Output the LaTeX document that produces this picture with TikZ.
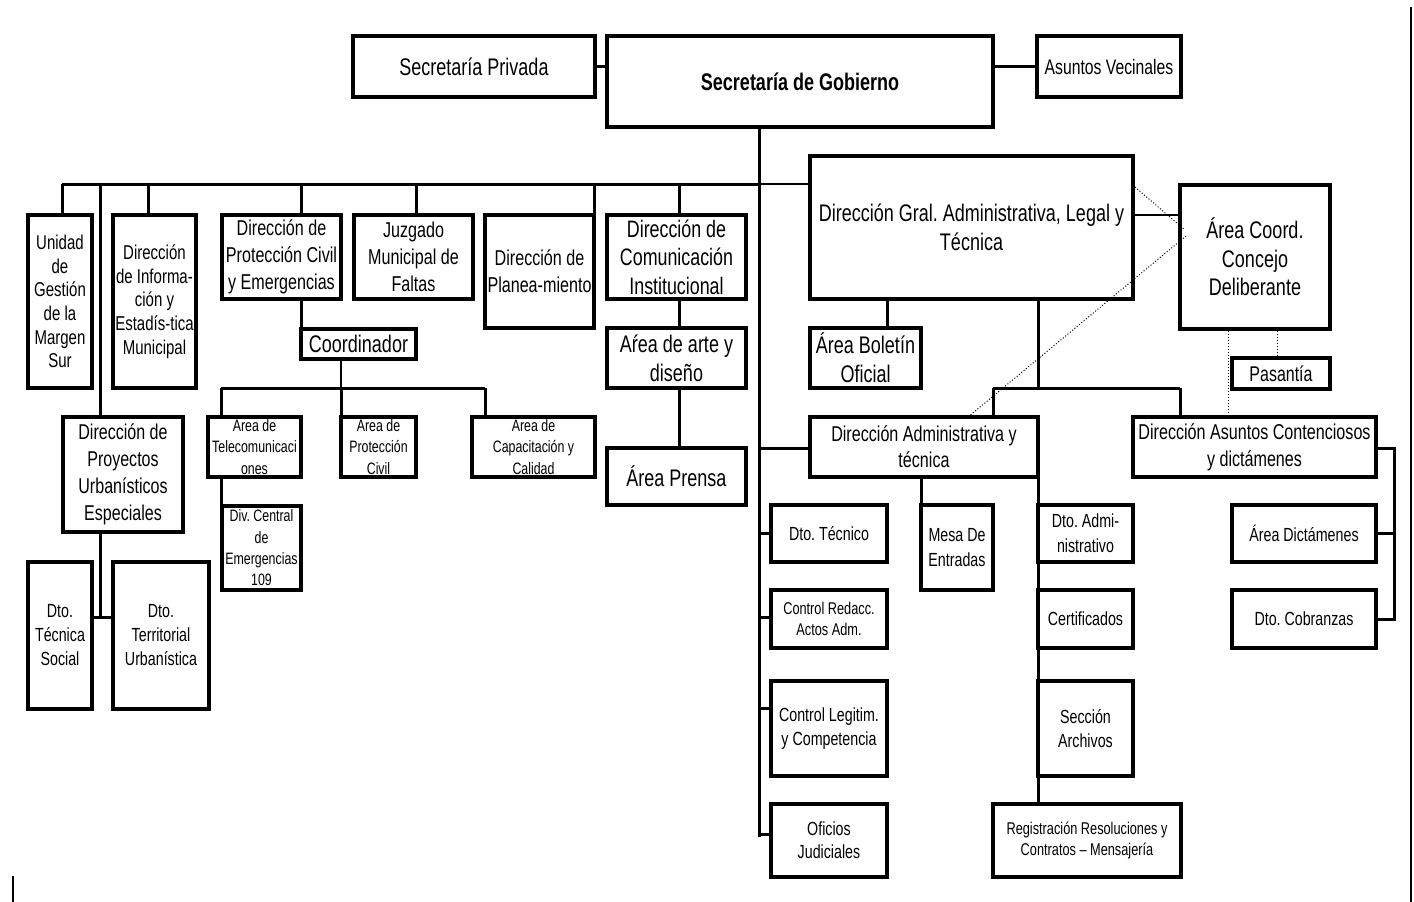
\documentclass[tikz,border=0pt]{standalone}
\usepackage{fontspec}
\setmainfont{Liberation Sans}[FakeStretch=0.75]
\newcommand{\fsz}[2]{\fontsize{#1}{#2}\selectfont}
\begin{document}
\frenchspacing
\begin{tikzpicture}[x=1pt,y=-1pt,
  box/.style={draw, line width=3.2pt, inner sep=0pt, align=center},
  con/.style={line width=3pt},
  thinc/.style={line width=1.1pt},
  dot/.style={line width=1pt, dotted}]
\useasboundingbox (0,0) rectangle (1414,902);
% top row
\node[box, minimum width=242pt, minimum height=61pt, font=\fsz{24}{29}] (priv) at (474,66.5) {Secretaría Privada};
\node[box, minimum width=386pt, minimum height=91pt, font=\fsz{24}{29}] (gob) at (800,81.5) {\textbf{Secretaría de Gobierno}};
\node[box, minimum width=144pt, minimum height=61pt, font=\fsz{21}{26}] (vec) at (1109,66.5) {Asuntos Vecinales};
% left branch
\node[box, minimum width=64pt, minimum height=173pt, font=\fsz{20}{23.7}] (unidad) at (60,301.5) {Unidad\\de\\Gestión\\de la\\Margen\\Sur};
\node[box, minimum width=83pt, minimum height=173pt, font=\fsz{20}{23.7}] (info) at (154.5,301.5) {Dirección\\de Informa-\\ción y\\Estadís-tica\\Municipal};
\node[box, minimum width=119pt, minimum height=84pt, font=\fsz{21.5}{26.7}] (pc) at (281.5,257) {Dirección de\\Protección Civil\\y Emergencias};
\node[box, minimum width=119pt, minimum height=84pt, font=\fsz{21.5}{26.7}] (juz) at (413.5,257) {Juzgado\\Municipal de\\Faltas};
\node[box, minimum width=109pt, minimum height=113pt, font=\fsz{21.5}{27}] (plan) at (539.5,271.5) {Dirección de\\Planea-miento};
\node[box, minimum width=139pt, minimum height=84pt, font=\fsz{23.8}{28.5}] (com) at (676.5,257) {Dirección de\\Comunicación\\Institucional};
\node[box, minimum width=139pt, minimum height=60pt, font=\fsz{24}{29}] (arte) at (676.5,358) {Aŕea de arte y\\diseño};
\node[box, minimum width=139pt, minimum height=57pt, font=\fsz{24}{29}] (prensa) at (676.5,476.5) {Área Prensa};
\node[box, minimum width=115pt, minimum height=30pt, font=\fsz{24}{29}] (coord) at (358.5,344) {Coordinador};
\node[box, minimum width=93pt, minimum height=60pt, font=\fsz{16.5}{21.5}] (tele) at (254.5,447) {Area de\\Telecomunicaci\\ones};
\node[box, minimum width=75pt, minimum height=60pt, font=\fsz{16.5}{21.5}] (apc) at (378.5,447) {Area de\\Protección\\Civil};
\node[box, minimum width=123pt, minimum height=60pt, font=\fsz{16.5}{21.5}] (cap) at (533.5,447) {Area de\\Capacitación y\\Calidad};
\node[box, minimum width=79pt, minimum height=84pt, font=\fsz{16.5}{21.3}] (div) at (261.5,548) {Div. Central\\de\\Emergencias\\109};
\node[box, minimum width=120pt, minimum height=115pt, font=\fsz{21.4}{27}] (proy) at (123,474.5) {Dirección de\\Proyectos\\Urbanísticos\\Especiales};
\node[box, minimum width=64pt, minimum height=147pt, font=\fsz{19}{24}] (dts) at (60,635.5) {Dto.\\Técnica\\Social};
\node[box, minimum width=96pt, minimum height=147pt, font=\fsz{19}{24}] (dtu) at (161,635.5) {Dto.\\Territorial\\Urbanística};
% right branch
\node[box, minimum width=323pt, minimum height=143pt, font=\fsz{24}{29}] (gral) at (971.5,227.5) {Dirección Gral. Administrativa, Legal y\\Técnica};
\node[box, minimum width=150pt, minimum height=144pt, font=\fsz{24}{28.5}] (acd) at (1255,257) {Área Coord.\\Concejo\\Deliberante};
\node[box, minimum width=98pt, minimum height=31pt, font=\fsz{21.3}{26}] (pas) at (1281,373.5) {Pasantía};
\node[box, minimum width=111pt, minimum height=60pt, font=\fsz{24}{29}] (bol) at (865.5,358) {Área Boletín\\Oficial};
\node[box, minimum width=228pt, minimum height=60pt, font=\fsz{21.5}{26}] (dat) at (924,447) {Dirección Administrativa y\\técnica};
\node[box, minimum width=243pt, minimum height=60pt, font=\fsz{21.5}{27}] (dac) at (1254.5,447) {Dirección Asuntos Contenciosos\\y dictámenes};
\node[box, minimum width=144pt, minimum height=57pt, font=\fsz{19}{24}] (adic) at (1304,533.5) {Área Dictámenes};
\node[box, minimum width=144pt, minimum height=58pt, font=\fsz{19}{24}] (cob) at (1304,619) {Dto. Cobranzas};
\node[box, minimum width=116pt, minimum height=57pt, font=\fsz{19}{24}] (dtec) at (829,533.5) {Dto. Técnico};
\node[box, minimum width=116pt, minimum height=58pt, font=\fsz{17}{21}] (cra) at (829,619) {Control Redacc.\\Actos Adm.};
\node[box, minimum width=116pt, minimum height=95pt, font=\fsz{19}{23.5}] (clc) at (829,728.5) {Control Legitim.\\y Competencia};
\node[box, minimum width=116pt, minimum height=73pt, font=\fsz{19}{23}] (ofi) at (829,840.5) {Oficios\\Judiciales};
\node[box, minimum width=72pt, minimum height=85pt, font=\fsz{19}{25}] (mesa) at (957,547.5) {Mesa De\\Entradas};
\node[box, minimum width=95pt, minimum height=57pt, font=\fsz{19}{25}] (dadm) at (1085.5,533.5) {Dto. Admi-\\nistrativo};
\node[box, minimum width=95pt, minimum height=58pt, font=\fsz{19}{24}] (cert) at (1085.5,619) {Certificados};
\node[box, minimum width=95pt, minimum height=95pt, font=\fsz{19}{23.5}] (arch) at (1085.5,728.5) {Sección\\Archivos};
\node[box, minimum width=188pt, minimum height=73pt, font=\fsz{17}{21}] (reg) at (1087,840.5) {Registración Resoluciones y\\Contratos – Mensajería};
% coordinates
\coordinate (busL) at (62,184);
\coordinate (b1) at (100,184);
\coordinate (b2) at (148,184);
\coordinate (b3) at (301,184);
\coordinate (b4) at (416,184);
\coordinate (b5) at (594,184);
\coordinate (b6) at (679,184);
\coordinate (busR) at (759,184);
\coordinate (pj) at (100,617);
\coordinate (c0) at (221,388);
\coordinate (c1) at (341,388);
\coordinate (c2) at (485,388);
\coordinate (tend) at (759,837);
\coordinate (t0) at (759,448);
\coordinate (t1) at (759,533);
\coordinate (t2) at (759,617);
\coordinate (t3) at (759,708);
\coordinate (t4) at (759,834);
\coordinate (g1) at (887,388);
\coordinate (g2) at (1038,388);
\coordinate (g3) at (993,388);
\coordinate (g4) at (1180,388);
\coordinate (ga) at (1133,215);
\coordinate (d1) at (1135,187);
\coordinate (d2) at (1185,230);
\coordinate (d3) at (1186,236);
\coordinate (d4) at (968,417);
\coordinate (p1) at (1228,388);
\coordinate (p2) at (1277,388);
\coordinate (m1) at (921,477);
\coordinate (k) at (1394,448);
\coordinate (bdR1) at (1411,7);
\coordinate (bdR2) at (1411,902);
\coordinate (bdL1) at (13,876);
\coordinate (bdL2) at (13,902);
% connectors top
\draw[con] (priv.east) -- (priv.east -| gob.west);
\draw[con] (vec.west) -- (vec.west -| gob.east);
\draw[con] (busR |- gob.south) -- (tend);
\draw[con] (busL) -- (busR);
\draw[thinc] (busR) -- (busR -| gral.west);
\draw[con] (busL) -- (busL |- unidad.north);
\draw[con] (b1) -- (b1 |- proy.north);
\draw[con] (b1 |- proy.south) -- (pj);
\draw[con] (pj -| dts.east) -- (pj -| dtu.west);
\draw[con] (b2) -- (b2 |- info.north);
\draw[con] (b3) -- (b3 |- pc.north);
\draw[con] (b4) -- (b4 |- juz.north);
\draw[con] (b5) -- (b5 |- plan.north);
\draw[con] (b6) -- (b6 |- com.north);
\draw[con] (b6 |- com.south) -- (b6 |- arte.north);
\draw[con] (b6 |- arte.south) -- (b6 |- prensa.north);
% protección civil
\draw[con] (b3 |- pc.south) -- (b3 |- coord.north);
\draw[thinc] (c1 |- coord.south) -- (c1);
\draw[con] (c0) -- (c2);
\draw[con] (c0) -- (c0 |- tele.north);
\draw[con] (c1) -- (c1 |- apc.north);
\draw[con] (c2) -- (c2 |- cap.north);
\draw[con] (c0 |- tele.south) -- (c0 |- div.north);
% right
\draw[thinc] (ga) -- (ga -| acd.west);
\draw[dot] (d1) -- (d2);
\draw[dot] (d3) -- (d4);
\draw[dot] (p1 |- acd.south) -- (p1 |- dac.north);
\draw[dot] (p2 |- acd.south) -- (p2 |- pas.north);
\draw[con] (g1 |- gral.south) -- (g1 |- bol.north);
\draw[con] (g2 |- gral.south) -- (g2);
\draw[con] (g3) -- (g4);
\draw[con] (g3) -- (g3 |- dat.north);
\draw[con] (g4) -- (g4 |- dac.north);
\draw[con] (t0) -- (t0 -| dat.west);
\draw[con] (t1) -- (t1 -| dtec.west);
\draw[con] (t2) -- (t2 -| cra.west);
\draw[con] (t3) -- (t3 -| clc.west);
\draw[con] (t4) -- (t4 -| ofi.west);
\draw[con] (m1 |- dat.south) -- (m1 |- mesa.north);
\draw[con] (g2 |- dat.south) -- (g2 |- reg.north);
\draw[con] (dac.east |- k) -- (k) -- (k |- cob.east) -- (cob.east);
\draw[con] (k |- adic.east) -- (adic.east);
% page edge marks
\draw[line width=2.2pt] (bdR1) -- (bdR2);
\draw[line width=2.2pt] (bdL1) -- (bdL2);
\end{tikzpicture}
\end{document}
